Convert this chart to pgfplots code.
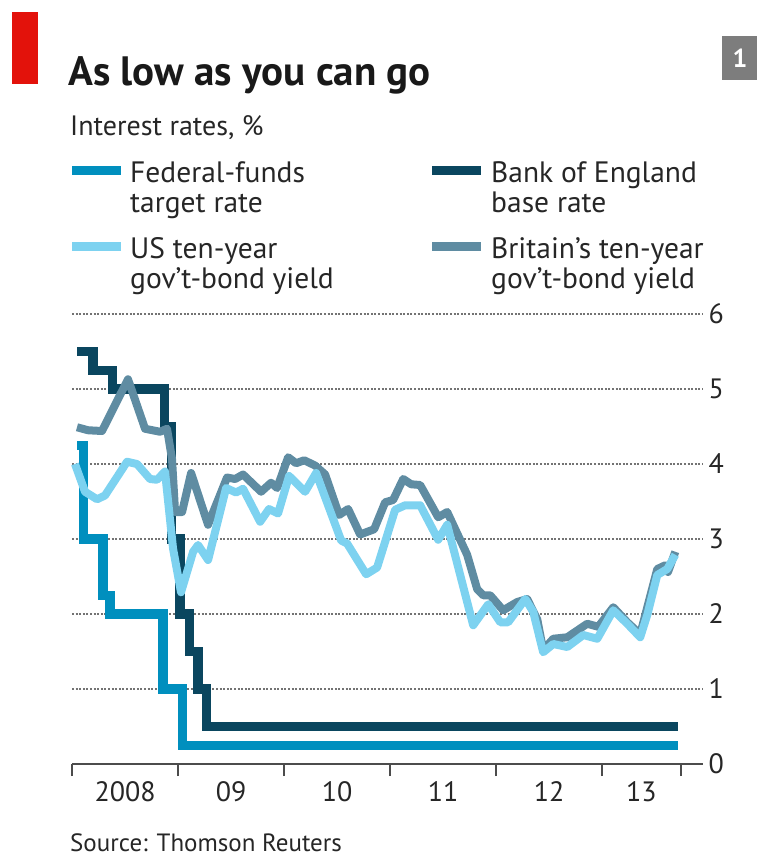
\documentclass[border=0pt]{standalone}
\usepackage{pgfplots}
\pgfplotsset{compat=1.18}
\usepackage{fontspec}
\setmainfont{PT Sans}
\definecolor{ffblue}{RGB}{0,143,190}
\definecolor{boedark}{RGB}{10,70,95}
\definecolor{uslight}{RGB}{125,210,240}
\definecolor{ukgray}{RGB}{95,140,162}
\definecolor{ecored}{RGB}{227,18,11}
\definecolor{boxgray}{RGB}{125,125,125}
\begin{document}
\begin{tikzpicture}
\path[use as bounding box] (0pt,0pt) rectangle (757pt,-860pt);
\begin{axis}[
  at={(72pt,-764pt)}, anchor=south west,
  scale only axis, width=631pt, height=450pt,
  xmin=2008, xmax=2013.95, ymin=0, ymax=6,
  clip=false,
  axis x line*=bottom, axis y line*=right,
  x axis line style={-, draw=black!70, line width=1.6pt},
  y axis line style={draw=none},
  xtick={2008.5,2009.5,2010.5,2011.5,2012.5,2013.37},
  xticklabels={2008,09,10,11,12,13},
  minor xtick={2008,2009,2010,2011,2012,2013,2013.745},
  major tick length=0pt, minor tick length=12pt, tick align=outside,
  minor tick style={draw=black!70, line width=1.6pt},
  ytick={0,1,2,3,4,5,6},
  yticklabels={0,1,2,3,4,5,6},
  ymajorgrids=true,
  grid style={draw=black!55, line width=2pt, dash pattern=on 2pt off 1.6pt},
  tick label style={font=\fontsize{28}{30}\selectfont, text=black!85},
  xticklabel style={yshift=-14pt},
  yticklabel style={xshift=2pt},
]
% Federal-funds target rate
\addplot[ffblue, line width=9.5pt, const plot] coordinates {
(2008.05,4.25) (2008.11,3.0) (2008.29,2.25) (2008.36,2.0) (2008.86,1.0)
(2009.04,0.25) (2013.71,0.25)};
% Bank of England base rate
\addplot[boedark, line width=9.5pt, const plot] coordinates {
(2008.05,5.5) (2008.20,5.25) (2008.38,5.0) (2008.873,4.5) (2008.94,3.0)
(2009.02,2.0) (2009.11,1.5) (2009.19,1.0) (2009.27,0.5) (2013.71,0.5)};
% Britain's ten-year gov't-bond yield
\addplot[ukgray, line width=8pt, line join=round] coordinates {
(2008.047,4.49) (2008.151,4.45) (2008.283,4.44) (2008.528,5.13) (2008.689,4.47)
(2008.830,4.43) (2008.896,4.47) (2008.943,4.07) (2008.972,3.36) (2009.038,3.36)
(2009.123,3.88) (2009.283,3.19) (2009.462,3.82) (2009.538,3.80) (2009.613,3.86)
(2009.783,3.63) (2009.877,3.75) (2009.934,3.68) (2010.038,4.09) (2010.113,4.01)
(2010.189,4.05) (2010.292,3.98) (2010.387,3.86) (2010.519,3.32) (2010.604,3.40)
(2010.717,3.06) (2010.849,3.13) (2010.953,3.49) (2011.028,3.52) (2011.123,3.80)
(2011.198,3.73) (2011.283,3.72) (2011.453,3.29) (2011.538,3.36) (2011.726,2.79)
(2011.821,2.33) (2011.877,2.25) (2011.943,2.25) (2012.066,2.05) (2012.198,2.16)
(2012.292,2.20) (2012.387,1.93) (2012.443,1.52) (2012.538,1.67) (2012.670,1.69)
(2012.858,1.87) (2012.962,1.83) (2013.104,2.09) (2013.236,1.89) (2013.358,1.73)
(2013.519,2.60) (2013.594,2.65) (2013.620,2.56) (2013.689,2.83)};
% US ten-year gov't-bond yield
\addplot[uslight, line width=8pt, line join=round] coordinates {
(2008.028,4.00) (2008.123,3.63) (2008.236,3.53) (2008.311,3.58) (2008.519,4.03)
(2008.613,4.00) (2008.736,3.80) (2008.802,3.79) (2008.877,3.90) (2008.953,2.87)
(2009.028,2.29) (2009.142,2.83) (2009.189,2.92) (2009.283,2.72) (2009.453,3.68)
(2009.547,3.62) (2009.613,3.67) (2009.774,3.23) (2009.858,3.40) (2009.943,3.34)
(2010.047,3.84) (2010.198,3.63) (2010.302,3.88) (2010.538,2.98) (2010.594,2.94)
(2010.774,2.53) (2010.877,2.62) (2011.047,3.39) (2011.142,3.45) (2011.283,3.45)
(2011.453,2.99) (2011.538,3.19) (2011.783,1.85) (2011.925,2.13) (2012.038,1.89)
(2012.113,1.89) (2012.274,2.20) (2012.349,2.03) (2012.443,1.49) (2012.538,1.60)
(2012.670,1.56) (2012.821,1.72) (2012.953,1.67) (2013.104,2.05) (2013.236,1.87)
(2013.358,1.69) (2013.425,1.99) (2013.519,2.52) (2013.613,2.60) (2013.689,2.79)};
\end{axis}
% decorations
\fill[ecored] (12pt,-12pt) rectangle (38pt,-84pt);
\fill[boxgray] (722pt,-36pt) rectangle (757pt,-80pt);
\node[text=white, font=\fontsize{26}{28}\selectfont\bfseries] at (740pt,-58pt) {1};
\node[anchor=base west, inner sep=0pt, font=\fontsize{41}{44}\selectfont\bfseries, text=black!90] at (68pt,-85pt) {As low as you can go};
\node[anchor=base west, inner sep=0pt, font=\fontsize{28}{30}\selectfont, text=black!85] at (70pt,-135pt) {Interest rates, \%};
% legend
\draw[ffblue, line width=9pt] (72pt,-170pt) -- (121pt,-170pt);
\draw[boedark, line width=9pt] (432pt,-170pt) -- (481pt,-170pt);
\draw[uslight, line width=9pt] (72pt,-246pt) -- (121pt,-246pt);
\draw[ukgray, line width=9pt] (432pt,-246pt) -- (481pt,-246pt);
\begin{scope}[every node/.style={anchor=base west, inner sep=0pt, align=left, font=\fontsize{29.5}{31}\selectfont, text=black!85}]
\node at (130pt,-182pt) {Federal-funds};
\node at (130pt,-212pt) {target rate};
\node at (491pt,-182pt) {Bank of England};
\node at (491pt,-212pt) {base rate};
\node at (130pt,-258pt) {US ten-year};
\node at (130pt,-288pt) {gov’t-bond yield};
\node at (491pt,-258pt) {Britain’s ten-year};
\node at (491pt,-288pt) {gov’t-bond yield};
\node[font=\fontsize{25}{28}\selectfont] at (70pt,-851pt) {Source: Thomson Reuters};
\end{scope}
\end{tikzpicture}
\end{document}
